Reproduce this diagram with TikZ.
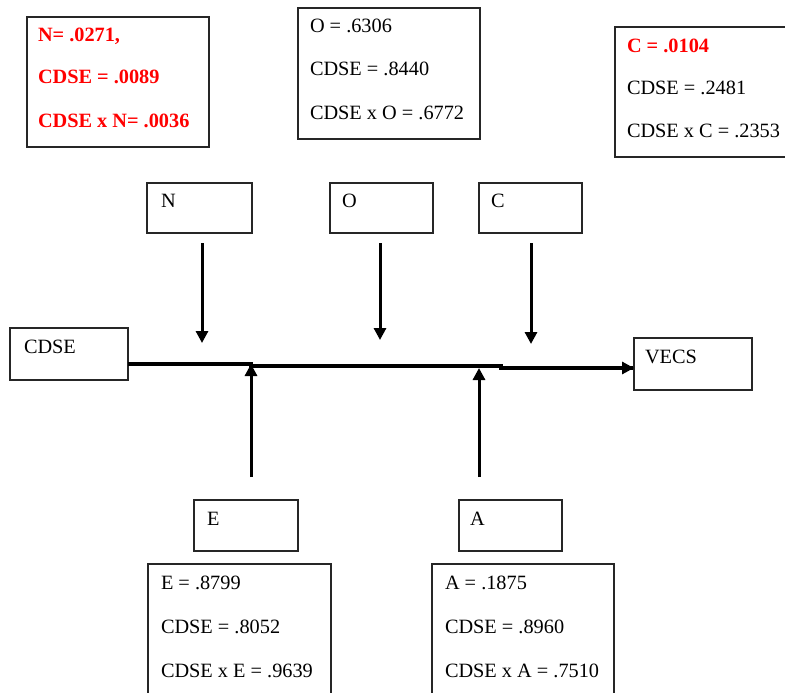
\documentclass[tikz,border=0pt]{standalone}
\usepackage{fontspec}
\setmainfont{Liberation Serif}
\usetikzlibrary{arrows.meta,calc}
\begin{document}
\begin{tikzpicture}[x=1pt,y=-1pt,
  box/.style={draw=black!85,line width=1.5pt,inner sep=0pt,outer sep=0pt,anchor=north west},
  txt/.style={anchor=base west,inner sep=0pt,outer sep=0pt,font=\fontsize{20.3}{24}\selectfont},
  redtxt/.style={txt,text=red,font=\fontsize{20.3}{24}\selectfont\bfseries},
  arr/.style={line width=3pt,-{Triangle[length=12pt,width=12pt]}},
  mainln/.style={line width=3.2pt}]
\useasboundingbox (0,0) rectangle (785,693);
% statistics boxes
\node[box,minimum width=182pt,minimum height=130pt] (statN) at (27,17) {};
\node[box,minimum width=182pt,minimum height=131pt] (statO) at (298,8) {};
\node[box,minimum width=180pt,minimum height=130pt] (statC) at (615,27) {};
\node[box,minimum width=183pt,minimum height=134pt] (statE) at (148,564) {};
\node[box,minimum width=182pt,minimum height=134pt] (statA) at (432,564) {};
\node[redtxt] (tN1) at (38,42) {N= .0271,};
\node[redtxt] (tN2) at (38,84) {CDSE = .0089};
\node[redtxt] (tN3) at (38,128) {CDSE x N= .0036};
\node[txt] (tO1) at (310,33) {O = .6306};
\node[txt] (tO2) at (310,76) {CDSE = .8440};
\node[txt] (tO3) at (310,119) {CDSE x O = .6772};
\node[redtxt] (tC1) at (627,53) {C = .0104};
\node[txt] (tC2) at (627,95) {CDSE = .2481};
\node[txt] (tC3) at (627,137) {CDSE x C = .2353};
\node[txt] (tE1) at (161,589) {E = .8799};
\node[txt] (tE2) at (161,633) {CDSE = .8052};
\node[txt] (tE3) at (161,677) {CDSE x E = .9639};
\node[txt] (tA1) at (445,589) {A = .1875};
\node[txt] (tA2) at (445,633) {CDSE = .8960};
\node[txt] (tA3) at (445,677) {CDSE x A = .7510};
% variable boxes
\node[box,minimum width=105pt,minimum height=50pt] (N) at (147,183) {};
\node[box,minimum width=103pt,minimum height=50pt] (O) at (330,183) {};
\node[box,minimum width=103pt,minimum height=50pt] (C) at (479,183) {};
\node[box,minimum width=118pt,minimum height=52pt] (CDSE) at (10,328) {};
\node[box,minimum width=118pt,minimum height=52pt] (VECS) at (634,338) {};
\node[box,minimum width=104pt,minimum height=51pt] (E) at (194,500) {};
\node[box,minimum width=103pt,minimum height=51pt] (A) at (459,500) {};
\node[txt] (lN) at (161,207) {N};
\node[txt] (lO) at (342,207) {O};
\node[txt] (lC) at (491,207) {C};
\node[txt] (lCDSE) at (24,353) {CDSE};
\node[txt] (lVECS) at (645,363) {VECS};
\node[txt] (lE) at (207,525) {E};
\node[txt] (lA) at (470,525) {A};
% connector coordinates
\coordinate (out) at (128,364);
\coordinate (j1) at (251,364);
\coordinate (j1b) at (251,366);
\coordinate (j2) at (501,366);
\coordinate (j2b) at (501,368);
\coordinate (in) at (634,368);
\coordinate (nS) at (202,243); \coordinate (nT) at (202,343);
\coordinate (oS) at (380,243); \coordinate (oT) at (380,340);
\coordinate (cS) at (531,243); \coordinate (cT) at (531,344);
\coordinate (eS) at (251,477); \coordinate (eT) at (251,364);
\coordinate (aS) at (479,477); \coordinate (aT) at (479,368);
% main path
\draw[mainln] (out) -- (j1) -- (j1b) -- (j2) -- (j2b) -- ($(in)+(-1,0)$);
\draw[arr] (j2b) -- (in);
\draw[arr] (nS) -- (nT);
\draw[arr] (oS) -- (oT);
\draw[arr] (cS) -- (cT);
\draw[arr] (eS) -- (eT);
\draw[arr] (aS) -- (aT);
\end{tikzpicture}
\end{document}
